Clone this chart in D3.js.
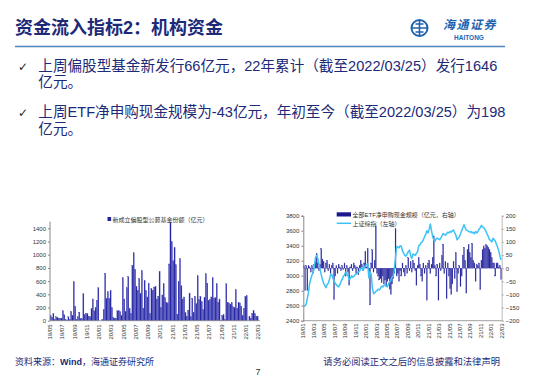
<!DOCTYPE html>
<html><head><meta charset="utf-8">
<script src="https://cdn.jsdelivr.net/npm/d3@7/dist/d3.min.js"></script>
<style>
html,body{margin:0;padding:0;background:#fff;}
svg{display:block;}
</style>
</head><body>
<svg id="c" width="550" height="380"></svg>
<script>
// ---------- DATA ----------
const leftLabels = ["19/05","19/07","19/09","19/11","20/01","20/03","20/05","20/07","20/09","20/11","21/01","21/03","21/05","21/07","21/09","21/11","22/01","22/03"];
const newFundShares = [
 80,50,110,20,60,50,30,40,40,
 150,90,20,10,60,20,140,80,590,
 220,20,60,130,30,30,410,90,110,
 110,70,60,180,330,150,200,310,500,
 0,0,20,170,720,340,440,340,460,
 200,50,40,40,150,150,140,80,650,
 330,140,500,670,190,110,840,1030,780,
 520,460,640,410,760,190,610,460,360,
 570,110,490,460,510,520,330,370,750,
 200,390,560,350,280,270,860,1490,1200,
 910,1110,850,100,600,940,530,330,360,
 120,70,160,420,60,340,130,370,260,
 680,320,370,290,170,350,710,570,310,
 320,360,650,340,350,560,280,330,10,
 80,90,20,560,280,270,250,280,210,
 200,470,190,280,270,220,80,190,370,
 380,0,70,40,110,150,110,70,70];
const leftTicks = [0,200,400,600,800,1000,1200,1400];

const rightLabels = ["19/01","19/03","19/05","19/07","19/09","19/11","20/01","20/03","20/05","20/07","20/09","20/11","21/01","21/03","21/05","21/07","21/09","21/11","22/01","22/03"];
const etfNetFlow = [
 10,-85,10,-85,10,5,-15,10,-20,15,25,55,20,-10,15,75,35,25,-15,20,
 30,-10,15,-20,10,20,-120,-30,10,-20,15,5,-10,10,-5,20,-30,10,-15,-65,
 5,15,-10,20,10,-20,5,-25,10,30,15,-10,20,65,5,75,-10,-140,20,70,
 -15,30,160,-20,-30,-45,-40,-55,-30,-60,-45,-70,-50,-40,-80,-100,-60,-40,-20,150,
 -30,-20,-50,-10,-30,20,-15,-30,10,-20,40,-10,25,-15,30,20,-10,-65,10,41,
 15,-30,-50,20,-20,10,-122,20,30,-20,15,40,123,10,-30,15,-122,20,-10,48,
 92,-20,25,-116,20,-30,-78,-100,-60,25,-40,60,-90,-20,10,-70,-30,50,80,30,
 -95,70,90,60,40,95,30,20,-50,15,10,20,-82,30,70,85,75,90,86,80,
 70,60,40,20,20,-30,20,20,5,10,-43];
const sseIndex = [
 2590,2600,2620,2700,2780,2900,2960,3010,3050,
 3100,3240,3270,3230,3160,3080,3010,2950,2900,
 2870,2840,2880,2900,2950,3010,3020,2970,2930,
 2900,2880,2860,2850,2880,2920,2950,2990,3010,
 3050,3030,3000,2950,2960,3000,2980,2990,3010,
 3020,3030,3050,3060,3090,3110,3080,3100,3130,
 3150,3160,2970,3050,3020,2840,2760,2770,2790,
 2800,2820,2810,2830,2860,2850,2870,2880,2860,
 2850,2890,2920,2940,2980,2990,3080,3250,3390,
 3380,3370,3400,3390,3330,3300,3270,3260,3290,
 3320,3340,3270,3230,3290,3280,3270,3300,3320,
 3400,3410,3440,3450,3480,3520,3550,3600,3570,
 3620,3690,3600,3520,3480,3460,3490,3500,3490,
 3480,3500,3530,3560,3550,3540,3560,3580,3570,
 3590,3580,3600,3610,3570,3540,3480,3500,3520,
 3560,3600,3640,3680,3640,3610,3600,3590,3580,
 3590,3570,3580,3560,3590,3570,3590,3620,3640,
 3670,3650,3640,3620,3590,3550,3520,3480,3470,
 3450,3500,3480,3460,3420,3380,3330,3260,3210];
const sseTicks = [2400,2600,2800,3000,3200,3400,3600,3800];
const etfTicks = [-200,-150,-100,-50,0,50,100,150,200];

const titleText = "资金流入指标2：机构资金";
const bulletLines = [
 ["上周偏股型基金新发行66亿元，22年累计（截至2022/03/25）发行1646","亿元。"],
 ["上周ETF净申购现金规模为-43亿元，年初至今（截至2022/03/25）为198","亿元。"]
];
const leftLegend = "新成立偏股型公募基金份额（亿元）";
const rightLegendBar = "全部ETF净申购现金规模（亿元，右轴）";
const rightLegendLine = "上证综指（左轴）";
const sourceText = ["资料来源：","Wind","，海通证券研究所"];
const disclaimer = "请务必阅读正文之后的信息披露和法律声明";
const pageNo = "7";

// ---------- DRAW ----------
const svg = d3.select("#c");
svg.append("rect").attr("width",550).attr("height",380).attr("fill","#fff");
const navy = "#1c2a78";
const cjk = "'Noto Sans CJK SC', sans-serif";
const lat = "'Liberation Sans', Arial, 'Noto Sans CJK SC', sans-serif";
const fmt = d3.format("d");

// Title
svg.append("text").attr("x",15).attr("y",34).attr("font-family",lat)
  .attr("font-size",18).attr("font-weight","bold").attr("fill",navy).text(titleText);
svg.append("line").attr("x1",15).attr("x2",505).attr("y1",46.5).attr("y2",46.5)
  .attr("stroke","#4f86c0").attr("stroke-width",1.6);

// Logo
const logo = svg.append("g").attr("transform","translate(419.5,28)");
logo.append("circle").attr("r",8).attr("fill","none").attr("stroke","#1e63b0").attr("stroke-width",2);
logo.append("path").attr("d","M-8,0 H8 M0,-8 V8 M-4,-4 H4 M-4,4 H4")
  .attr("stroke","#1e63b0").attr("stroke-width",1.6).attr("fill","none");
svg.append("text").attr("x",443).attr("y",28.5).attr("font-family",cjk).attr("font-size",12)
  .attr("font-weight","bold").attr("font-style","italic").attr("fill","#1e63b0").attr("letter-spacing",1.5).text("海通证券");
svg.append("text").attr("x",469).attr("y",39.5).attr("text-anchor","middle").attr("font-family",lat)
  .attr("font-size",6.5).attr("font-weight","bold").attr("fill","#1e63b0").text("HAITONG");

// Bullets
const bulletY = [70.5, 117];
bulletLines.forEach((ls,i)=>{
  svg.append("text").attr("x",18).attr("y",bulletY[i]).attr("font-family","'DejaVu Sans'")
    .attr("font-size",12).attr("fill","#222").text("✓");
  ls.forEach((t,j)=>{
    svg.append("text").attr("x",38.3).attr("y",bulletY[i]+j*16.7).attr("font-family",lat)
      .attr("font-size",14.6).attr("fill",navy).text(t);
  });
});

// ---------- Left chart ----------
const barFill = "#2323a0";
const xl = d3.scaleLinear().domain([0,newFundShares.length]).range([50,258.3]);
const yl = d3.scaleLinear().domain([0,1500]).range([320.7,221.7]);
const gl = svg.append("g");
const bwL = (xl(1)-xl(0));
gl.selectAll("rect.b").data(newFundShares).join("rect").attr("class","b")
  .attr("x",(d,i)=>xl(i)+bwL*0.08).attr("width",bwL*0.84)
  .attr("y",d=>yl(d)).attr("height",d=>yl(0)-yl(d))
  .attr("fill",barFill).attr("stroke","#5858c8").attr("stroke-width",0.25);
const yAxisL = d3.axisLeft(yl).tickValues(leftTicks).tickFormat(fmt).tickSize(2).tickPadding(2);
gl.append("g").attr("transform","translate(50,0)").call(yAxisL)
  .call(g=>g.select(".domain").attr("stroke","#888").attr("d","M-0,221.7V320.7"))
  .call(g=>g.selectAll("line").attr("stroke","#888"))
  .call(g=>g.selectAll("text").attr("font-family",lat).attr("font-size",6).attr("fill","#333"));
gl.append("line").attr("x1",50).attr("x2",260).attr("y1",320.7).attr("y2",320.7).attr("stroke","#888").attr("stroke-width",0.8);
gl.selectAll("text.xl").data(leftLabels).join("text").attr("class","xl")
  .attr("transform",(d,k)=>`translate(${xl(k*9)},324.5) rotate(-90)`)
  .attr("text-anchor","end").attr("dy","0.35em").attr("font-family",lat).attr("font-size",6).attr("fill","#333").text(d=>d);
gl.append("rect").attr("x",107.5).attr("y",217).attr("width",3.6).attr("height",4).attr("fill",barFill);
gl.append("text").attr("x",112.5).attr("y",221.6).attr("font-family",cjk).attr("font-size",6).attr("fill","#333").text(leftLegend);

// ---------- Right chart ----------
const xr = d3.scaleLinear().domain([0,etfNetFlow.length]).range([303.3,501.7]);
const yrL = d3.scaleLinear().domain([2400,3800]).range([320.7,215.7]);
const yrR = d3.scaleLinear().domain([-200,200]).range([320.7,215.7]);
const gr = svg.append("g");
const bwR = xr(1)-xr(0);
gr.selectAll("rect.b").data(etfNetFlow).join("rect").attr("class","b")
  .attr("x",(d,i)=>xr(i)+bwR*0.08).attr("width",bwR*0.84)
  .attr("y",d=>yrR(Math.max(0,d))).attr("height",d=>Math.abs(yrR(d)-yrR(0)))
  .attr("fill","#1a1a8e").attr("stroke","#4848bb").attr("stroke-width",0.25);
const line = d3.line().x((d,i)=>xr(i+0.5)).y(d=>yrL(d));
gr.append("path").datum(sseIndex).attr("d",line).attr("fill","none")
  .attr("stroke","#3cc3f5").attr("stroke-width",1.5).attr("stroke-linejoin","round");
gr.append("g").attr("transform","translate(303.3,0)").call(d3.axisLeft(yrL).tickValues(sseTicks).tickFormat(fmt).tickSize(2).tickPadding(2))
  .call(g=>g.select(".domain").attr("stroke","#888"))
  .call(g=>g.selectAll("line").attr("stroke","#888"))
  .call(g=>g.selectAll("text").attr("font-family",lat).attr("font-size",6).attr("fill","#333"));
gr.append("g").attr("transform","translate(501.7,0)").call(d3.axisRight(yrR).tickValues(etfTicks).tickFormat(fmt).tickSize(2).tickPadding(2))
  .call(g=>g.select(".domain").attr("stroke","#bbb"))
  .call(g=>g.selectAll("line").attr("stroke","#aaa"))
  .call(g=>g.selectAll("text").attr("font-family",lat).attr("font-size",6).attr("fill","#333"));
gr.append("line").attr("x1",303.3).attr("x2",501.7).attr("y1",320.7).attr("y2",320.7).attr("stroke","#888").attr("stroke-width",0.8);
gr.selectAll("text.xr").data(rightLabels).join("text").attr("class","xr")
  .attr("transform",(d,k)=>`translate(${xr(k*9)},323.5) rotate(-90)`)
  .attr("text-anchor","end").attr("dy","0.35em").attr("font-family",lat).attr("font-size",6).attr("fill","#333").text(d=>d);
gr.append("rect").attr("x",336.7).attr("y",212.3).attr("width",14.3).attr("height",4.2).attr("fill","#1a1a8e");
gr.append("text").attr("x",352.5).attr("y",216.8).attr("font-family",lat).attr("font-size",6).attr("fill","#333").text(rightLegendBar);
gr.append("line").attr("x1",336.7).attr("x2",351).attr("y1",223.3).attr("y2",223.3).attr("stroke","#3cc3f5").attr("stroke-width",1.5);
gr.append("text").attr("x",352.5).attr("y",225.6).attr("font-family",cjk).attr("font-size",6).attr("fill","#333").text(rightLegendLine);

// ---------- Footer ----------
const src = svg.append("text").attr("x",15).attr("y",365).attr("font-family",cjk).attr("font-size",9).attr("fill",navy);
src.append("tspan").text(sourceText[0]);
src.append("tspan").attr("font-family",lat).attr("font-weight","bold").text(sourceText[1]);
src.append("tspan").text(sourceText[2]);
svg.append("text").attr("x",500).attr("y",365).attr("text-anchor","end").attr("font-family",cjk)
  .attr("font-size",9.3).attr("fill",navy).text(disclaimer);
svg.append("text").attr("x",258).attr("y",375).attr("text-anchor","middle").attr("font-family",lat)
  .attr("font-size",9).attr("fill","#333").text(pageNo);
</script>
</body></html>
